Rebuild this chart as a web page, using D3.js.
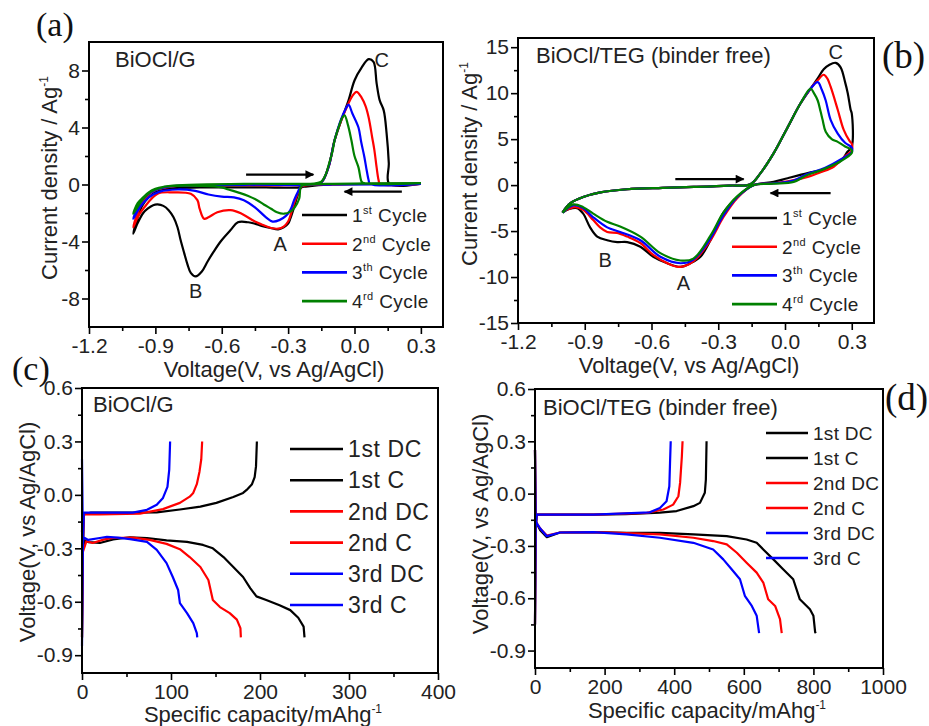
<!DOCTYPE html>
<html>
<head>
<meta charset="utf-8">
<script src="https://cdn.jsdelivr.net/npm/d3@7"></script>
<style>
  body { margin: 0; background: #fff; }
  text { font-family: "Liberation Sans", Arial, sans-serif; fill: #222; }
  .plabel { font-family: "Liberation Serif", "Times New Roman", serif; fill: #111; }
</style>
</head>
<body>
<svg id="fig" width="929" height="726"></svg>
<script>
// ---- CV, BiOCl/G (panel a): [voltage V, current A/g]
var cvG1 = [[0.30,0.05],[0.16,0.05],[-0.10,0.0],[-0.22,-0.15],[-0.24,-0.2],[-0.26,-0.9],[-0.273,-1.6],[-0.29,-2.4],[-0.30,-2.75],[-0.32,-3.0],[-0.345,-3.15],[-0.38,-3.05],[-0.42,-2.9],[-0.45,-2.75],[-0.48,-2.65],[-0.527,-2.65],[-0.56,-3.2],[-0.605,-4.0],[-0.64,-4.8],[-0.664,-5.4],[-0.69,-6.1],[-0.718,-6.45],[-0.74,-6.2],[-0.755,-5.6],[-0.77,-4.8],[-0.786,-3.9],[-0.80,-3.0],[-0.818,-2.3],[-0.84,-1.8],[-0.864,-1.5],[-0.89,-1.4],[-0.91,-1.45],[-0.935,-1.7],[-0.955,-2.0],[-0.98,-2.7],[-1.0,-3.45],
  [-0.98,-2.3],[-0.96,-1.5],[-0.93,-0.9],[-0.90,-0.55],[-0.86,-0.35],[-0.80,-0.25],[-0.70,-0.2],[-0.60,-0.2],[-0.40,-0.2],[-0.25,-0.2],[-0.20,0.0],[-0.15,0.15],[-0.118,1.2],[-0.09,3.1],[-0.06,4.5],[-0.027,5.9],[0.0,7.3],[0.032,8.2],[0.064,8.8],[0.086,8.6],[0.10,7.1],[0.114,5.9],[0.132,5.2],[0.145,3.6],[0.155,1.5],[0.157,0.05],[0.30,0.05]];
var cvG2 = [[0.30,0.05],[-0.10,0.0],[-0.24,-0.15],[-0.255,-0.6],[-0.273,-1.3],[-0.29,-2.2],[-0.30,-2.6],[-0.32,-2.95],[-0.345,-3.1],[-0.377,-3.05],[-0.42,-2.8],[-0.45,-2.6],[-0.51,-2.05],[-0.56,-1.8],[-0.62,-1.95],[-0.66,-2.3],[-0.68,-2.4],[-0.70,-1.7],[-0.71,-1.1],[-0.74,-0.65],[-0.82,-0.55],[-0.89,-0.65],[-0.95,-1.6],[-0.98,-2.3],[-1.0,-3.0],
  [-0.98,-2.0],[-0.96,-1.3],[-0.93,-0.7],[-0.90,-0.4],[-0.85,-0.2],[-0.80,-0.1],[-0.60,-0.05],[-0.20,0.0],[-0.15,0.15],[-0.118,1.2],[-0.09,3.1],[-0.06,4.5],[-0.03,5.6],[-0.01,6.2],[0.009,6.5],[0.032,6.1],[0.05,5.5],[0.064,4.7],[0.08,3.3],[0.09,2.4],[0.10,1.2],[0.109,0.3],[0.115,0.05],[0.30,0.05]];
var cvG3 = [[0.30,0.05],[-0.10,0.0],[-0.24,-0.1],[-0.255,-0.5],[-0.273,-1.1],[-0.29,-1.8],[-0.31,-2.2],[-0.34,-2.5],[-0.37,-2.6],[-0.40,-2.3],[-0.45,-1.6],[-0.50,-1.1],[-0.545,-0.9],[-0.60,-0.85],[-0.66,-0.7],[-0.72,-0.45],[-0.80,-0.35],[-0.88,-0.5],[-0.93,-0.9],[-0.97,-1.6],[-1.0,-2.4],
  [-0.98,-1.6],[-0.95,-0.9],[-0.91,-0.45],[-0.86,-0.2],[-0.80,-0.1],[-0.50,-0.02],[-0.20,0.0],[-0.15,0.15],[-0.118,1.2],[-0.09,3.1],[-0.06,4.6],[-0.04,5.3],[-0.027,5.6],[-0.01,5.0],[0.018,4.0],[0.03,3.0],[0.045,1.9],[0.055,1.0],[0.064,0.3],[0.07,0.05],[0.30,0.05]];
var cvG4 = [[0.30,0.1],[-0.10,0.05],[-0.20,0.0],[-0.24,-0.1],[-0.25,-1.0],[-0.27,-1.6],[-0.29,-1.9],[-0.318,-2.05],[-0.35,-1.95],[-0.377,-1.7],[-0.41,-1.4],[-0.44,-1.1],[-0.48,-0.8],[-0.527,-0.55],[-0.57,-0.35],[-0.60,-0.2],[-0.70,-0.1],[-0.80,-0.1],[-0.87,-0.2],[-0.92,-0.5],[-0.96,-1.1],[-1.0,-2.05],
  [-0.98,-1.3],[-0.955,-0.9],[-0.93,-0.55],[-0.90,-0.3],[-0.86,-0.15],[-0.82,-0.07],[-0.50,0.05],[-0.20,0.05],[-0.17,0.1],[-0.15,0.2],[-0.13,0.7],[-0.118,1.3],[-0.10,2.3],[-0.09,3.1],[-0.07,4.1],[-0.055,4.7],[-0.045,4.86],[-0.03,4.2],[-0.014,3.1],[0.0,2.0],[0.018,1.2],[0.032,0.2],[0.04,0.1],[0.30,0.1]];

// ---- CV, BiOCl/TEG binder free (panel b)
var cvT1 = [[-1.0,-3.0],[-0.966,-2.0],[-0.907,-1.3],[-0.83,-0.8],[-0.71,-0.45],[-0.55,-0.3],[-0.41,-0.2],[-0.25,-0.05],[-0.155,0.1],[-0.11,1.3],[-0.05,3.5],[0.012,6.3],[0.07,8.9],[0.115,10.5],[0.147,11.6],[0.174,12.6],[0.20,13.1],[0.228,13.3],[0.25,12.8],[0.27,11.2],[0.282,10.0],[0.295,8.2],[0.30,7.8],[0.30,4.2],[0.28,3.6],[0.264,3.0],[0.237,2.4],[0.19,1.8],[0.16,1.6],[0.102,1.3],[0.012,0.75],[-0.051,0.35],[-0.141,0.0],[-0.214,-1.3],[-0.277,-3.0],[-0.335,-6.0],[-0.38,-7.8],[-0.425,-8.5],[-0.47,-8.9],[-0.529,-8.5],[-0.592,-7.8],[-0.65,-6.7],[-0.709,-6.2],[-0.754,-6.2],[-0.799,-6.0],[-0.844,-5.6],[-0.876,-4.6],[-0.907,-3.1],[-0.934,-2.5],[-0.97,-2.6],[-1.0,-3.0]];
var cvT2 = [[-1.0,-3.0],[-0.966,-2.0],[-0.907,-1.3],[-0.83,-0.8],[-0.71,-0.45],[-0.55,-0.3],[-0.41,-0.2],[-0.25,-0.05],[-0.155,0.1],[-0.11,1.3],[-0.05,3.5],[0.012,6.3],[0.07,8.9],[0.115,10.5],[0.147,11.4],[0.174,12.0],[0.19,11.6],[0.205,10.7],[0.237,8.2],[0.264,6.0],[0.29,4.8],[0.30,4.5],[0.30,3.8],[0.264,3.0],[0.219,2.0],[0.16,1.4],[0.102,0.9],[0.012,0.4],[-0.051,0.2],[-0.141,0.0],[-0.214,-1.4],[-0.277,-3.5],[-0.335,-6.0],[-0.412,-8.3],[-0.47,-8.9],[-0.529,-8.5],[-0.592,-7.6],[-0.65,-6.3],[-0.709,-5.6],[-0.754,-5.2],[-0.799,-5.1],[-0.831,-4.6],[-0.862,-3.8],[-0.907,-2.7],[-0.943,-2.4],[-1.0,-2.9]];
var cvT3 = [[-1.0,-3.0],[-0.966,-2.0],[-0.907,-1.3],[-0.83,-0.8],[-0.71,-0.45],[-0.55,-0.3],[-0.41,-0.2],[-0.25,-0.05],[-0.155,0.1],[-0.11,1.3],[-0.05,3.5],[0.012,6.3],[0.07,8.9],[0.115,10.5],[0.147,11.2],[0.165,10.4],[0.183,9.2],[0.205,7.1],[0.237,5.6],[0.27,4.6],[0.30,4.1],[0.30,3.6],[0.25,2.8],[0.19,2.0],[0.16,1.7],[0.10,1.2],[0.039,0.5],[-0.05,0.2],[-0.141,0.0],[-0.214,-1.3],[-0.277,-3.3],[-0.335,-5.8],[-0.412,-8.1],[-0.47,-8.5],[-0.56,-7.8],[-0.65,-6.0],[-0.741,-5.1],[-0.799,-4.6],[-0.862,-3.5],[-0.907,-2.5],[-0.952,-2.2],[-1.0,-3.0]];
var cvT4 = [[-1.0,-3.0],[-0.966,-2.0],[-0.907,-1.3],[-0.83,-0.8],[-0.71,-0.45],[-0.55,-0.3],[-0.41,-0.2],[-0.25,-0.05],[-0.155,0.1],[-0.11,1.3],[-0.05,3.5],[0.012,6.3],[0.07,8.9],[0.115,10.5],[0.13,10.0],[0.147,9.2],[0.16,8.0],[0.169,7.1],[0.183,5.8],[0.21,5.0],[0.237,4.7],[0.27,4.2],[0.30,3.8],[0.30,3.5],[0.25,2.6],[0.19,1.9],[0.16,1.6],[0.10,1.1],[0.039,0.35],[-0.05,0.15],[-0.141,0.0],[-0.214,-1.2],[-0.277,-3.0],[-0.335,-5.5],[-0.412,-8.0],[-0.47,-8.2],[-0.56,-7.4],[-0.65,-5.6],[-0.741,-4.5],[-0.799,-4.0],[-0.862,-3.1],[-0.907,-2.4],[-0.952,-2.1],[-1.0,-3.0]];

// ---- galvanostatic, BiOCl/G (panel c): [capacity mAh/g, voltage V]
var gcG_dc1 = [[0,-0.2],[1,-0.3],[3,-0.255],[7,-0.265],[20,-0.27],[35,-0.25],[54,-0.238],[73,-0.242],[95,-0.255],[118,-0.264],[136,-0.281],[147,-0.30],[159,-0.349],[170,-0.405],[181,-0.461],[189,-0.523],[196,-0.57],[207,-0.59],[222,-0.62],[234,-0.647],[243,-0.69],[249,-0.74],[250,-0.8]];
var gcG_c1 = [[0,-0.8],[1,-0.3],[2,-0.11],[10,-0.1],[50,-0.1],[84,-0.098],[110,-0.082],[133,-0.066],[151,-0.045],[170,-0.012],[181,0.011],[185,0.028],[191,0.06],[194,0.1],[195.5,0.16],[196.5,0.3]];
var gcG_dc2 = [[0,-0.2],[1,-0.32],[5,-0.26],[12,-0.27],[25,-0.25],[35,-0.242],[57,-0.24],[76,-0.253],[95,-0.275],[110,-0.305],[121,-0.349],[133,-0.405],[142,-0.478],[147,-0.59],[155,-0.63],[166,-0.664],[174,-0.70],[178,-0.748],[178.5,-0.8]];
var gcG_c2 = [[0,-0.8],[1,-0.3],[2,-0.11],[20,-0.11],[65,-0.105],[91,-0.08],[110,-0.045],[121,-0.01],[125,0.011],[129,0.06],[132,0.13],[134,0.2],[135,0.3]];
var gcG_dc3 = [[0,0.2],[1,-0.25],[3,-0.242],[7,-0.253],[20,-0.242],[28,-0.236],[40,-0.24],[54,-0.248],[73,-0.264],[84,-0.309],[95,-0.383],[102,-0.461],[108,-0.534],[110,-0.608],[118,-0.664],[125,-0.72],[129,-0.776],[129.5,-0.8]];
var gcG_c3 = [[0,-0.85],[1,-0.3],[2,-0.1],[57,-0.1],[73,-0.084],[84,-0.056],[91,-0.017],[96,0.045],[98,0.14],[99,0.3]];

// ---- galvanostatic, BiOCl/TEG (panel d)
var gcT_dc1 = [[0,0.25],[2,-0.16],[15,-0.21],[34,-0.25],[72,-0.223],[168,-0.221],[263,-0.225],[359,-0.225],[455,-0.234],[551,-0.244],[608,-0.263],[637,-0.282],[656,-0.32],[685,-0.377],[713,-0.434],[742,-0.491],[761,-0.606],[790,-0.663],[800,-0.70],[805,-0.794],[807,-0.8]];
var gcT_c1 = [[0,-0.75],[2,-0.2],[5,-0.12],[168,-0.12],[260,-0.118],[359,-0.109],[407,-0.1],[455,-0.072],[474,-0.053],[488,0.005],[491,0.08],[493,0.3]];
var gcT_dc2 = [[0,0.25],[2,-0.16],[15,-0.2],[34,-0.24],[72,-0.223],[168,-0.221],[263,-0.227],[359,-0.234],[455,-0.253],[512,-0.272],[551,-0.291],[580,-0.339],[608,-0.396],[637,-0.453],[656,-0.51],[670,-0.606],[690,-0.644],[704,-0.72],[709,-0.8]];
var gcT_c2 = [[0,-0.75],[2,-0.2],[5,-0.12],[168,-0.12],[321,-0.11],[369,-0.091],[397,-0.063],[412,-0.015],[417,0.063],[422,0.213],[424,0.3]];
var gcT_dc3 = [[0,0.25],[2,-0.16],[15,-0.2],[34,-0.244],[72,-0.223],[168,-0.221],[263,-0.234],[359,-0.253],[455,-0.282],[512,-0.32],[541,-0.377],[565,-0.434],[589,-0.491],[603,-0.586],[623,-0.644],[637,-0.70],[644,-0.8]];
var gcT_c3 = [[0,-0.75],[2,-0.2],[5,-0.12],[168,-0.12],[330,-0.107],[359,-0.082],[378,-0.044],[386,0.042],[388,0.175],[390,0.3]];

// legends and ticks
var cycleNums = ["1", "2", "3", "4"];
var cycleSups = ["st", "nd", "th", "rd"];
var gcLabels = ["1st DC", "1st C", "2nd DC", "2nd C", "3rd DC", "3rd C"];
var cvColors = ["#000000", "#ff0000", "#0000ff", "#008000"];
var gcColors = ["#000000", "#000000", "#ff0000", "#ff0000", "#0000ff", "#0000ff"];

var cvXTicks = [-1.2, -0.9, -0.6, -0.3, 0.0, 0.3];
var cvXMinor = [-1.05, -0.75, -0.45, -0.15, 0.15];
var cvGYTicks = [-8, -4, 0, 4, 8];
var cvGYMinor = [-6, -2, 2, 6];
var cvTYTicks = [-15, -10, -5, 0, 5, 10, 15];
var cvTYMinor = [-12.5, -7.5, -2.5, 2.5, 7.5, 12.5];
var gcYTicks = [-0.9, -0.6, -0.3, 0.0, 0.3, 0.6];
var gcYMinor = [-0.75, -0.45, -0.15, 0.15, 0.45];
var gcGXTicks = [0, 100, 200, 300, 400];
var gcGXMinor = [50, 150, 250, 350];
var gcTXTicks = [0, 200, 400, 600, 800, 1000];
var gcTXMinor = [100, 300, 500, 700, 900];

// peak letters and scan arrows, in data units
var peaksG = [["A", -0.336, -4.15], ["B", -0.718, -7.46], ["C", 0.123, 8.73]];
var peaksT = [["A", -0.457, -10.65], ["B", -0.808, -8.15], ["C", 0.228, 14.46]];
var arrowsG = [[-0.49, 0.7, -0.186, 0.7], [0.214, -0.5, -0.045, -0.5]];
var arrowsT = [[-0.493, 0.65, -0.186, 0.65], [0.205, -0.87, -0.065, -0.87]];

var svg = d3.select("#fig");

svg.append("defs").append("marker")
    .attr("id", "head")
    .attr("viewBox", "0 0 10 10")
    .attr("refX", 9).attr("refY", 5)
    .attr("markerWidth", 5).attr("markerHeight", 4)
    .attr("markerUnits", "strokeWidth")
    .attr("orient", "auto")
  .append("path").attr("d", "M0,0 L10,5 L0,10 z").attr("fill", "#000");

function fmt1(d) { return d.toFixed(1); }
function fmt0(d) { return d.toFixed(0); }

function drawPanel(p) {
  var x = d3.scaleLinear().domain(p.xDomain).range([p.left, p.right]);
  var y = d3.scaleLinear().domain(p.yDomain).range([p.bottom, p.top]);
  var g = svg.append("g");

  // minor ticks
  g.append("g").attr("transform", "translate(0," + p.bottom + ")")
    .call(d3.axisBottom(x).tickValues(p.xMinor).tickSizeInner(4).tickSizeOuter(0).tickFormat(""));
  g.append("g").attr("transform", "translate(" + p.left + ",0)")
    .call(d3.axisLeft(y).tickValues(p.yMinor).tickSizeInner(4).tickSizeOuter(0).tickFormat(""));
  // major ticks
  g.append("g").attr("transform", "translate(0," + p.bottom + ")")
    .call(d3.axisBottom(x).tickValues(p.xTicks).tickSizeInner(7).tickSizeOuter(0).tickPadding(4).tickFormat(p.xFmt));
  g.append("g").attr("transform", "translate(" + p.left + ",0)")
    .call(d3.axisLeft(y).tickValues(p.yTicks).tickSizeInner(7).tickSizeOuter(0).tickPadding(2).tickFormat(p.yFmt));
  g.selectAll(".domain").remove();
  g.selectAll(".tick line").attr("stroke", "#000").attr("stroke-width", 1.6);
  g.selectAll(".tick text").attr("font-size", 21).attr("fill", "#222")
    .attr("font-family", "Liberation Sans, Arial, sans-serif");

  var line = d3.line().x(function(d) { return x(d[0]); }).y(function(d) { return y(d[1]); })
    .curve(p.smooth ? d3.curveCatmullRom.alpha(0.5) : d3.curveLinear);
  p.series.forEach(function(s, i) {
    g.append("path").datum(s).attr("d", line)
      .attr("fill", "none").attr("stroke", p.colors[i]).attr("stroke-width", 2.2)
      .attr("stroke-linejoin", "round");
  });

  if (p.arrows) {
    p.arrows.forEach(function(a) {
      g.append("line")
        .attr("x1", x(a[0])).attr("y1", y(a[1])).attr("x2", x(a[2])).attr("y2", y(a[3]))
        .attr("stroke", "#000").attr("stroke-width", 2.2).attr("marker-end", "url(#head)");
    });
  }
  if (p.peaks) {
    p.peaks.forEach(function(k) {
      g.append("text").attr("x", x(k[1])).attr("y", y(k[2])).attr("dy", "0.36em")
        .attr("text-anchor", "middle").attr("font-size", 20).text(k[0]);
    });
  }

  // frame
  g.append("rect").attr("x", p.left).attr("y", p.top)
    .attr("width", p.right - p.left).attr("height", p.bottom - p.top)
    .attr("fill", "none").attr("stroke", "#000").attr("stroke-width", 2);

  // sample name
  g.append("text").attr("x", p.nameX).attr("y", p.nameY).attr("font-size", 22).text(p.name);

  // axis titles
  var xt = g.append("text").attr("x", p.xTitleX).attr("y", p.xTitleY)
    .attr("text-anchor", "middle").attr("font-size", 22).text(p.xTitle);
  if (p.xTitleSup) xt.append("tspan").attr("dy", -9).attr("font-size", 12).text(p.xTitleSup);
  var yt = g.append("text").attr("transform", "translate(" + p.yTitleX + "," + p.yTitleY + ") rotate(-90)")
    .attr("text-anchor", "middle").attr("font-size", 22).text(p.yTitle);
  if (p.yTitleSup) yt.append("tspan").attr("dy", -9).attr("font-size", 12).text(p.yTitleSup);

  // panel letter
  svg.append("text").attr("class", "plabel").attr("x", p.tagX).attr("y", p.tagY)
    .attr("font-size", p.tagSize).text(p.tag);

  // legend
  var lg = g.append("g");
  p.legend.forEach(function(item, i) {
    var ly = p.legY + i * p.legStep;
    lg.append("line").attr("x1", p.legX).attr("x2", p.legX + p.legLen)
      .attr("y1", ly).attr("y2", ly).attr("stroke", p.colors[i]).attr("stroke-width", 2.6);
    var t = lg.append("text").attr("x", p.legX + p.legLen + 5).attr("y", ly).attr("dy", "0.36em")
      .attr("font-size", p.legSize).attr("letter-spacing", p.legSpacing || 0);
    if (item.sup) {
      t.append("tspan").text(item.main);
      t.append("tspan").attr("dy", -8).attr("font-size", 11).text(item.sup);
      t.append("tspan").attr("dy", 8).text(" " + item.rest);
    } else {
      t.text(item.main);
    }
  });
}

var cvLegend = cycleNums.map(function(n, i) { return { main: n, sup: cycleSups[i], rest: "Cycle" }; });
var gcLegend = gcLabels.map(function(l) { return { main: l }; });

drawPanel({
  left: 89, top: 42, right: 443, bottom: 327,
  xDomain: [-1.2, 0.4], yDomain: [-10, 10],
  xTicks: cvXTicks, xMinor: cvXMinor, yTicks: cvGYTicks, yMinor: cvGYMinor,
  xFmt: fmt1, yFmt: fmt0, smooth: true,
  series: [cvG1, cvG2, cvG3, cvG4], colors: cvColors,
  arrows: arrowsG, peaks: peaksG,
  name: "BiOCl/G", nameX: 115, nameY: 67,
  xTitle: "Voltage(V, vs Ag/AgCl)", xTitleX: 274, xTitleY: 377,
  yTitle: "Current density / Ag", yTitleSup: "-1", yTitleX: 57, yTitleY: 178,
  tag: "(a)", tagX: 36, tagY: 36, tagSize: 34,
  legend: cvLegend, legX: 302, legY: 215, legStep: 28.7, legLen: 45, legSize: 19, legSpacing: 0.4
});

drawPanel({
  left: 518, top: 38, right: 874, bottom: 323,
  xDomain: [-1.2, 0.4], yDomain: [-15, 16],
  xTicks: cvXTicks, xMinor: cvXMinor, yTicks: cvTYTicks, yMinor: cvTYMinor,
  xFmt: fmt1, yFmt: fmt0, smooth: true,
  series: [cvT1, cvT2, cvT3, cvT4], colors: cvColors,
  arrows: arrowsT, peaks: peaksT,
  name: "BiOCl/TEG (binder free)", nameX: 536, nameY: 63,
  xTitle: "Voltage(V, vs Ag/AgCl)", xTitleX: 689, xTitleY: 373,
  yTitle: "Current density / Ag", yTitleSup: "-1", yTitleX: 477, yTitleY: 164,
  tag: "(b)", tagX: 882, tagY: 68, tagSize: 37,
  legend: cvLegend, legX: 732, legY: 218, legStep: 28.7, legLen: 45, legSize: 19, legSpacing: 0.4
});

drawPanel({
  left: 82, top: 388, right: 438, bottom: 673,
  xDomain: [0, 400], yDomain: [-1.0, 0.6],
  xTicks: gcGXTicks, xMinor: gcGXMinor, yTicks: gcYTicks, yMinor: gcYMinor,
  xFmt: fmt0, yFmt: fmt1, smooth: false,
  series: [gcG_dc1, gcG_c1, gcG_dc2, gcG_c2, gcG_dc3, gcG_c3], colors: gcColors,
  name: "BiOCl/G", nameX: 93, nameY: 412,
  xTitle: "Specific capacity/mAhg", xTitleSup: "-1", xTitleX: 263, xTitleY: 722,
  yTitle: "Voltage(V, vs Ag/AgCl)", yTitleX: 35, yTitleY: 532,
  tag: "(c)", tagX: 12, tagY: 380, tagSize: 34,
  legend: gcLegend, legX: 290, legY: 449, legStep: 31.2, legLen: 53, legSize: 23, legSpacing: 0.6
});

drawPanel({
  left: 535, top: 389, right: 883, bottom: 668,
  xDomain: [0, 1000], yDomain: [-1.0, 0.6],
  xTicks: gcTXTicks, xMinor: gcTXMinor, yTicks: gcYTicks, yMinor: gcYMinor,
  xFmt: fmt0, yFmt: fmt1, smooth: false,
  series: [gcT_dc1, gcT_c1, gcT_dc2, gcT_c2, gcT_dc3, gcT_c3], colors: gcColors,
  name: "BiOCl/TEG (binder free)", nameX: 543, nameY: 415,
  xTitle: "Specific capacity/mAhg", xTitleSup: "-1", xTitleX: 707, xTitleY: 718,
  yTitle: "Voltage(V, vs Ag/AgCl)", yTitleX: 488, yTitleY: 524,
  tag: "(d)", tagX: 885, tagY: 410, tagSize: 37,
  legend: gcLegend, legX: 766, legY: 433, legStep: 25, legLen: 42, legSize: 19, legSpacing: 0.3
});
</script>
</body>
</html>
